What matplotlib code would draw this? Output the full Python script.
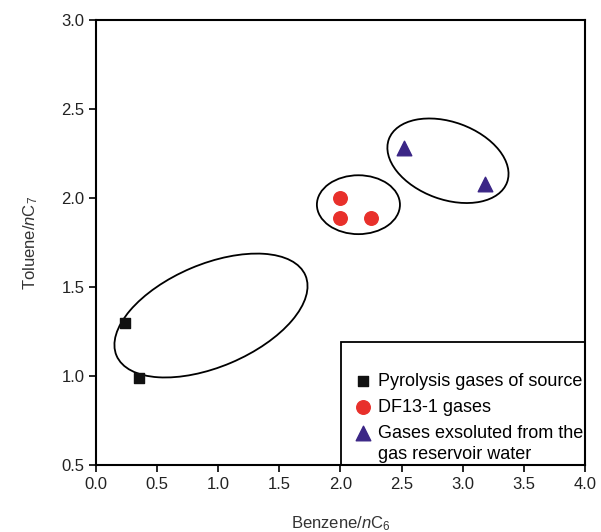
import matplotlib
matplotlib.use("Agg")
import matplotlib.pyplot as plt
from matplotlib.patches import Ellipse, Rectangle
from matplotlib.transforms import Affine2D

plt.rcParams['font.family'] = ['Liberation Sans', 'DejaVu Sans']
plt.rcParams['mathtext.fontset'] = 'custom'
plt.rcParams['mathtext.rm'] = 'Liberation Sans'
plt.rcParams['mathtext.it'] = 'Liberation Sans:italic'

# Data
pyro_x = [0.24, 0.35]
pyro_y = [1.30, 0.99]
df_x = [2.00, 2.00, 2.25]
df_y = [2.00, 1.89, 1.89]
water_x = [2.52, 3.18]
water_y = [2.28, 2.08]

labels = ["Pyrolysis gases of source", "DF13-1 gases", "Gases exsoluted from the", "gas reservoir water"]

# Enclosing ellipses: center (x, y), semi-axes in x-units, angle (deg, visual)
ellipses = [
    ((0.94, 1.34), 0.84, 0.42, 23),
    ((2.147, 1.963), 0.34, 0.241, 0),
    ((2.88, 2.21), 0.515, 0.317, -20),
]

fig = plt.figure(figsize=(6.01, 5.32), dpi=100)
ax = fig.add_axes([0.16, 0.126, 0.813, 0.836])
ax.set_xlim(0, 4.0)
ax.set_ylim(0.5, 3.0)
ax.set_xticks([0, 0.5, 1.0, 1.5, 2.0, 2.5, 3.0, 3.5, 4.0])
ax.set_yticks([0.5, 1.0, 1.5, 2.0, 2.5, 3.0])
ax.xaxis.set_major_formatter(matplotlib.ticker.FormatStrFormatter('%.1f'))
ax.yaxis.set_major_formatter(matplotlib.ticker.FormatStrFormatter('%.1f'))
ax.tick_params(direction='out', length=5, width=1.2, labelsize=12, colors='black',
               labelcolor='#222222')
for s in ax.spines.values():
    s.set_linewidth(1.5)

ax.set_xlabel('Benzene/$\\it{n}$C$_6$', fontsize=12, labelpad=16, color='#333333')
ax.set_ylabel('Toluene/$\\it{n}$C$_7$', fontsize=12, labelpad=15, color='#333333')

# aspect ratio (pixels per unit x / pixels per unit y)
fig.canvas.draw()
bb = ax.get_window_extent()
px_x = bb.width / 4.0
px_y = bb.height / 2.5
ratio = px_x / px_y

for (cx, cy), a, b, ang in ellipses:
    e = Ellipse((0, 0), 2 * a, 2 * b, angle=ang, fill=False, edgecolor='black', lw=1.3,
                transform=Affine2D().scale(1, ratio).translate(cx, cy) + ax.transData)
    ax.add_patch(e)

ax.scatter(pyro_x, pyro_y, marker='s', s=55, color='#111111', zorder=3, label=labels[0])
ax.scatter(df_x, df_y, marker='o', s=95, color='#e8302b', zorder=3, label=labels[1])
ax.scatter(water_x, water_y, marker='^', s=110, color='#3b2686', zorder=3, label=labels[2])

# legend box
box_left = (341 - 96) / 489.0
box_top = (465 - 342) / 445.0
ax.add_patch(Rectangle((box_left, 0), 1 - box_left, box_top, transform=ax.transAxes,
                       fill=False, edgecolor='black', lw=1.3, zorder=4))

leg = ax.legend(loc='upper left', bbox_to_anchor=(box_left + 0.025, box_top - 0.07),
                frameon=False, fontsize=13, handletextpad=0.25, handlelength=1.1,
                labelspacing=0.5, borderpad=0, borderaxespad=0, scatterpoints=1)
fig.canvas.draw()
t = leg.get_texts()[2]
ext = t.get_window_extent()
inv = ax.transAxes.inverted()
x0, y0 = inv.transform((ext.x0, ext.y0))
ax.text(x0, y0 - 0.008, labels[3], transform=ax.transAxes, fontsize=13, va='top', ha='left')

fig.savefig('out.png', dpi=100)
